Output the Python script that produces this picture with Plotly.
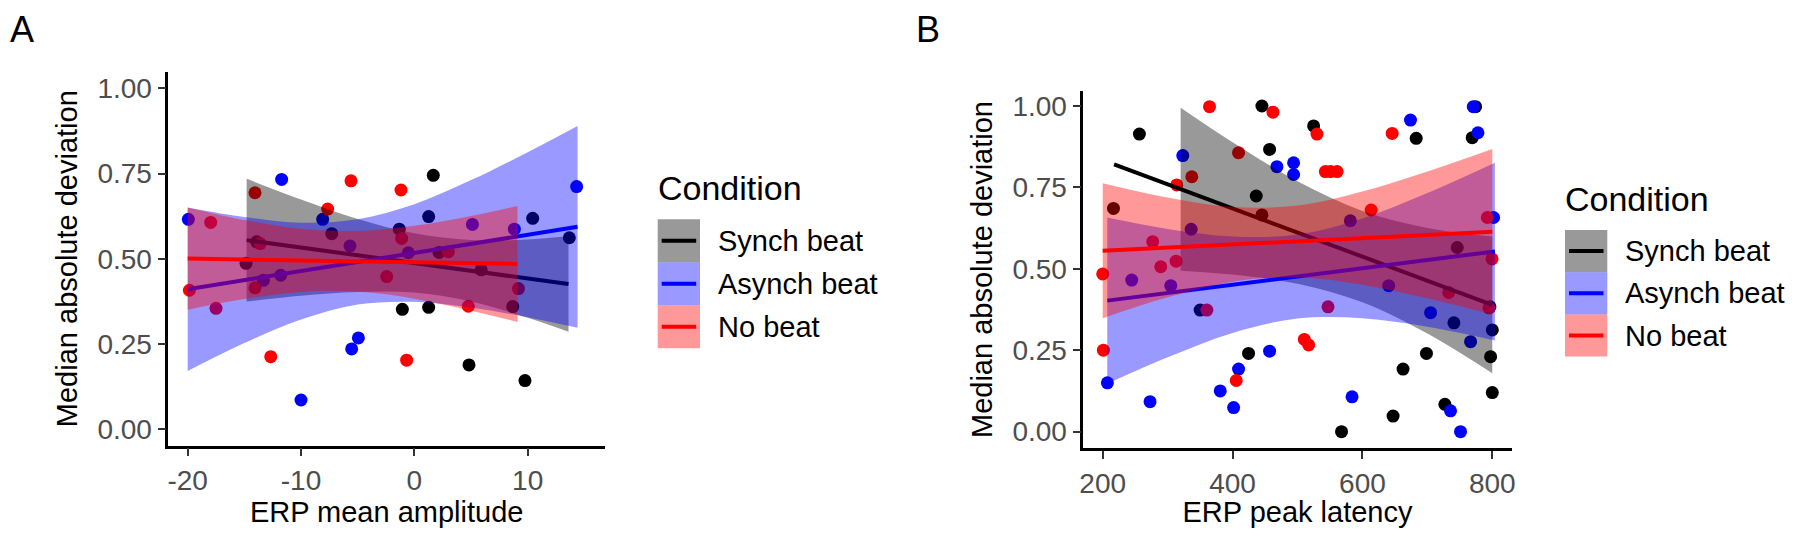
import plotly.graph_objects as go

# The page body has an 8px default margin; the figure is sized so it fills the 1800x536 window exactly.
PAGE_W, PAGE_H = 1800, 536
OFF = 8
W, H = PAGE_W - 2 * OFF, PAGE_H - 2 * OFF
FONT = "Liberation Sans, Arial, sans-serif"

conditions = ["Synch beat", "Asynch beat", "No beat"]
line_colors = ["#000000", "#0000FF", "#FF0000"]
fill_colors = ["rgba(0,0,0,0.4)", "rgba(0,0,255,0.4)", "rgba(255,0,0,0.4)"]

# ---------------- Panel A: ERP mean amplitude ----------------
a_synch_x = [1.67, -7.29, -1.33, 1.26, 10.44, 13.67, -14.85, -13.91, 5.9, 8.68, -1.06, 1.26, 4.82, 9.76, 2.18]
a_synch_y = [0.745, 0.574, 0.587, 0.624, 0.619, 0.562, 0.487, 0.550, 0.468, 0.360, 0.352, 0.358, 0.189, 0.143, 0.519]
a_asynch_x = [-11.71, -19.94, -8.09, -5.68, -0.53, 5.12, 8.82, 14.32, -11.79, -4.94, -5.53, -10.0, -13.32]
a_asynch_y = [0.733, 0.616, 0.616, 0.538, 0.518, 0.601, 0.587, 0.712, 0.452, 0.268, 0.236, 0.086, 0.437]
a_nobeat_x = [-5.59, -1.18, -14.06, -7.65, -17.97, -1.12, 3.0, -14.06, -19.85, -17.5, -2.44, 9.18, 4.76, -12.67, -0.68, -13.6]
a_nobeat_y = [0.729, 0.702, 0.694, 0.646, 0.607, 0.560, 0.521, 0.415, 0.408, 0.355, 0.448, 0.413, 0.361, 0.213, 0.203, 0.545]

# fitted lines and confidence bands
a_fit_synch_x = [-14.8, -10, -5, 0, 5, 10, 13.6]
a_fit_synch_y = [0.555, 0.533, 0.510, 0.488, 0.465, 0.442, 0.426]
a_fit_synch_hi = [0.735, 0.674, 0.617, 0.575, 0.555, 0.557, 0.566]
a_fit_synch_lo = [0.375, 0.392, 0.403, 0.401, 0.375, 0.327, 0.286]

a_fit_asynch_x = [-20, -15, -10, -5, 0, 5, 10, 14.4]
a_fit_asynch_y = [0.411, 0.438, 0.464, 0.491, 0.517, 0.544, 0.571, 0.594]
a_fit_asynch_hi = [0.651, 0.623, 0.606, 0.616, 0.660, 0.731, 0.813, 0.890]
a_fit_asynch_lo = [0.171, 0.253, 0.322, 0.366, 0.374, 0.357, 0.329, 0.298]

a_fit_nobeat_x = [-20, -15, -10, -5, 0, 5, 9.1]
a_fit_nobeat_y = [0.501, 0.498, 0.4955, 0.4927, 0.490, 0.4873, 0.485]
a_fit_nobeat_hi = [0.651, 0.614, 0.588, 0.582, 0.597, 0.626, 0.655]
a_fit_nobeat_lo = [0.351, 0.382, 0.403, 0.404, 0.383, 0.348, 0.315]

# ---------------- Panel B: ERP peak latency ----------------
b_synch_x = [256.5, 445.2, 524.8, 457, 436.5, 682.8, 769.1, 774.3, 424.6, 567.8, 647.2, 662.6, 698.6, 727,
             800, 797.4, 800, 796.4, 740.9, 216.6, 445.2, 350, 746]
b_synch_y = [0.913, 0.999, 0.938, 0.866, 0.723, 0.900, 0.902, 0.997, 0.240, 0.0, 0.048, 0.192, 0.240, 0.084,
             0.12, 0.23, 0.312, 0.383, 0.334, 0.685, 0.665, 0.373, 0.565]
b_asynch_x = [323.3, 468.3, 494, 494, 674, 777.9, 770.7, 802, 705, 766.6, 735.7, 751.1, 584, 457, 409.2, 381,
              401.6, 272.9, 207.2, 244.7, 304.8, 336.2, 581.4, 640.5]
b_asynch_y = [0.847, 0.813, 0.825, 0.789, 0.956, 0.917, 0.997, 0.657, 0.365, 0.276, 0.064, 0.0, 0.107, 0.247,
              0.192, 0.125, 0.074, 0.092, 0.15, 0.465, 0.448, 0.621, 0.647, 0.448]
b_nobeat_x = [364.5, 462.2, 530, 645.8, 542.9, 551, 561, 409.2, 337.2, 314, 613.4, 200, 201, 277, 289.4, 313,
              360.4, 547, 510.5, 517.2, 405.6, 792.3, 799.6, 733, 795]
b_nobeat_y = [0.997, 0.98, 0.913, 0.915, 0.798, 0.798, 0.798, 0.856, 0.782, 0.757, 0.680, 0.484, 0.25, 0.583,
              0.506, 0.523, 0.373, 0.383, 0.283, 0.266, 0.157, 0.657, 0.53, 0.427, 0.38]

b_line_synch_x = [217.5, 800]
b_line_synch_y = [0.820, 0.389]
b_fit_synch_x = [320, 400, 500, 600, 700, 800]
b_fit_synch_hi = [0.994, 0.888, 0.768, 0.677, 0.625, 0.599]
b_fit_synch_lo = [0.494, 0.482, 0.454, 0.397, 0.301, 0.179]

b_line_asynch_x = [207, 804]
b_line_asynch_y = [0.402, 0.553]
b_fit_asynch_x = [207, 300, 400, 500, 600, 700, 804]
b_fit_asynch_hi = [0.657, 0.622, 0.599, 0.605, 0.654, 0.732, 0.825]
b_fit_asynch_lo = [0.147, 0.228, 0.303, 0.347, 0.348, 0.322, 0.280]

b_line_nobeat_x = [200, 800]
b_line_nobeat_y = [0.555, 0.613]
b_fit_nobeat_x = [200, 300, 400, 500, 600, 700, 800]
b_fit_nobeat_hi = [0.762, 0.718, 0.689, 0.694, 0.737, 0.798, 0.867]
b_fit_nobeat_lo = [0.348, 0.412, 0.460, 0.474, 0.451, 0.409, 0.359]

y_ticks = [0, 0.25, 0.5, 0.75, 1.0]
y_ticklabels = ["0.00", "0.25", "0.50", "0.75", "1.00"]
a_x_ticks = [-20, -10, 0, 10]
b_x_ticks = [200, 400, 600, 800]

fig = go.Figure()


def add_points(xs, ys, color, xa, ya):
    fig.add_trace(go.Scatter(x=xs, y=ys, mode="markers", xaxis=xa, yaxis=ya,
                             marker=dict(size=13, color=color, line=dict(width=0)),
                             showlegend=False, hoverinfo="x+y"))


def add_band(bx, lo, hi, lx, ly, fill, color, xa, ya):
    fig.add_trace(go.Scatter(x=bx, y=lo, mode="lines", xaxis=xa, yaxis=ya,
                             line=dict(width=0, shape="spline", smoothing=1.0),
                             showlegend=False, hoverinfo="skip"))
    fig.add_trace(go.Scatter(x=bx, y=hi, mode="lines", xaxis=xa, yaxis=ya, fill="tonexty",
                             fillcolor=fill, line=dict(width=0, shape="spline", smoothing=1.0),
                             showlegend=False, hoverinfo="skip"))
    fig.add_trace(go.Scatter(x=lx, y=ly, mode="lines", xaxis=xa, yaxis=ya,
                             line=dict(width=4, color=color), showlegend=False))


# Panel A
add_points(a_synch_x, a_synch_y, line_colors[0], "x", "y")
add_points(a_asynch_x, a_asynch_y, line_colors[1], "x", "y")
add_points(a_nobeat_x, a_nobeat_y, line_colors[2], "x", "y")
add_band(a_fit_synch_x, a_fit_synch_lo, a_fit_synch_hi, [a_fit_synch_x[0], a_fit_synch_x[-1]],
         [a_fit_synch_y[0], a_fit_synch_y[-1]], fill_colors[0], line_colors[0], "x", "y")
add_band(a_fit_asynch_x, a_fit_asynch_lo, a_fit_asynch_hi, [a_fit_asynch_x[0], a_fit_asynch_x[-1]],
         [a_fit_asynch_y[0], a_fit_asynch_y[-1]], fill_colors[1], line_colors[1], "x", "y")
add_band(a_fit_nobeat_x, a_fit_nobeat_lo, a_fit_nobeat_hi, [a_fit_nobeat_x[0], a_fit_nobeat_x[-1]],
         [a_fit_nobeat_y[0], a_fit_nobeat_y[-1]], fill_colors[2], line_colors[2], "x", "y")

# Panel B
add_points(b_synch_x, b_synch_y, line_colors[0], "x2", "y2")
add_points(b_asynch_x, b_asynch_y, line_colors[1], "x2", "y2")
add_points(b_nobeat_x, b_nobeat_y, line_colors[2], "x2", "y2")
add_band(b_fit_synch_x, b_fit_synch_lo, b_fit_synch_hi, b_line_synch_x, b_line_synch_y,
         fill_colors[0], line_colors[0], "x2", "y2")
add_band(b_fit_asynch_x, b_fit_asynch_lo, b_fit_asynch_hi, b_line_asynch_x, b_line_asynch_y,
         fill_colors[1], line_colors[1], "x2", "y2")
add_band(b_fit_nobeat_x, b_fit_nobeat_lo, b_fit_nobeat_hi, b_line_nobeat_x, b_line_nobeat_y,
         fill_colors[2], line_colors[2], "x2", "y2")


def px_x(p):
    # page pixel -> paper fraction
    return (p - OFF) / W


def px_y(p):
    return 1 - (p - OFF) / H


axis_common = dict(showline=True, linecolor="black", linewidth=2.5, mirror=False,
                   ticks="outside", ticklen=8, tickwidth=2, tickcolor="#333333",
                   tickfont=dict(family=FONT, size=28, color="#4D4D4D"),
                   showgrid=False, zeroline=False, automargin=False)

title_font = dict(family=FONT, size=29, color="black")

fig.update_layout(
    width=W, height=H,
    margin=dict(l=0, r=0, t=0, b=0),
    paper_bgcolor="white", plot_bgcolor="white",
    showlegend=False,
    font=dict(family=FONT),
    xaxis=dict(domain=[px_x(168.3), px_x(605)], range=[-21.71, 16.82], anchor="y",
               tickvals=a_x_ticks, ticktext=[str(v) for v in a_x_ticks],
               title=dict(text="ERP mean amplitude", font=title_font, standoff=2),
               **axis_common),
    yaxis=dict(domain=[px_y(445.7), px_y(71.7)], range=[-0.048, 1.049], anchor="x",
               tickvals=y_ticks, ticktext=y_ticklabels,
               title=dict(text="Median absolute deviation", font=title_font, standoff=12),
               **axis_common),
    xaxis2=dict(domain=[px_x(1083.3), px_x(1511.7)], range=[170.1, 829.9], anchor="y2",
                tickvals=b_x_ticks, ticktext=[str(v) for v in b_x_ticks],
                title=dict(text="ERP peak latency", font=title_font, standoff=2),
                **axis_common),
    yaxis2=dict(domain=[px_y(448.3), px_y(90.7)], range=[-0.051, 1.046], anchor="x2",
                tickvals=y_ticks, ticktext=y_ticklabels,
                title=dict(text="Median absolute deviation", font=title_font, standoff=12),
                **axis_common),
)

shapes = []
annotations = []


def add_legend(x0, title_y, key_top, key_h, label_x):
    annotations.append(dict(text="Condition", x=px_x(x0 - 2), y=px_y(title_y), xref="paper", yref="paper",
                            xanchor="left", yanchor="middle", showarrow=False,
                            font=dict(family=FONT, size=34, color="black")))
    for i, name in enumerate(conditions):
        top = key_top + i * key_h
        bot = top + key_h
        shapes.append(dict(type="rect", xref="paper", yref="paper", x0=px_x(x0), x1=px_x(x0 + 42.3),
                           y0=px_y(bot), y1=px_y(top), fillcolor=fill_colors[i],
                           line=dict(width=0), layer="above"))
        mid = (top + bot) / 2
        shapes.append(dict(type="line", xref="paper", yref="paper", x0=px_x(x0 + 4), x1=px_x(x0 + 38.5),
                           y0=px_y(mid), y1=px_y(mid), line=dict(color=line_colors[i], width=4),
                           layer="above"))
        annotations.append(dict(text=name, x=px_x(label_x - 2), y=px_y(mid), xref="paper", yref="paper",
                                xanchor="left", yanchor="middle", showarrow=False,
                                font=dict(family=FONT, size=29, color="black")))


add_legend(657.7, 188, 219.3, 43.0, 718.3)
add_legend(1565, 199, 230, 42.2, 1625)

# panel tags, anchored at the top edge so they are not clipped
annotations.append(dict(text="A", x=px_x(22), y=1.0, xref="paper", yref="paper",
                        xanchor="center", yanchor="top", showarrow=False, borderpad=0,
                        font=dict(family=FONT, size=36, color="black")))
annotations.append(dict(text="B", x=px_x(928), y=1.0, xref="paper", yref="paper",
                        xanchor="center", yanchor="top", showarrow=False, borderpad=0,
                        font=dict(family=FONT, size=36, color="black")))

fig.update_layout(shapes=shapes, annotations=annotations)

fig.write_html("out.html")
